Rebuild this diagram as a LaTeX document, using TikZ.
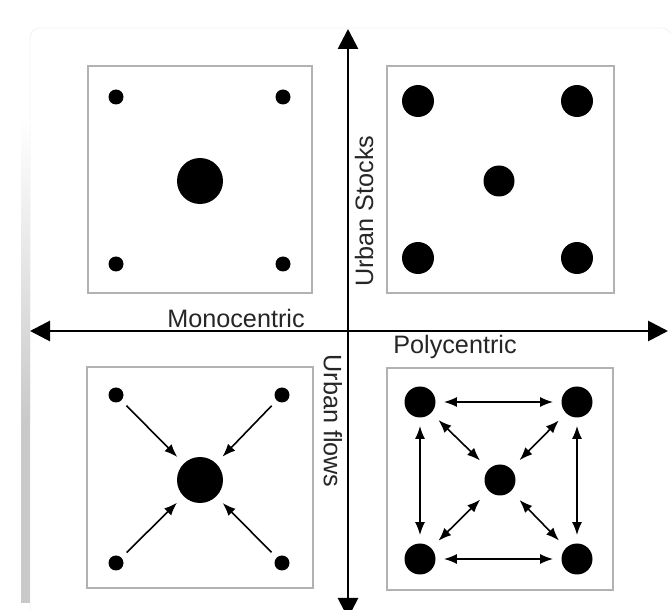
\documentclass[tikz,border=0pt]{standalone}
\usepackage{fontspec}
\setmainfont{Liberation Sans}
\usetikzlibrary{arrows.meta}
\tikzset{
  panel/.style={draw=black!30, line width=0.7pt},
  smalldot/.style={circle, fill=black, inner sep=0pt, minimum size=7.5pt},
  bigdot/.style={circle, fill=black, inner sep=0pt, minimum size=23pt},
  hubdot/.style={circle, fill=black, inner sep=0pt, minimum size=15.5pt},
  axis/.style={draw, line width=1.4pt, {Triangle[length=10pt,width=10pt]}-{Triangle[length=10pt,width=10pt]}},
  flow/.style={draw, line width=0.8pt, -{Latex[length=6.5pt,width=5pt]}, shorten <=3.5pt, shorten >=4.5pt},
  link/.style={draw, line width=0.8pt, {Latex[length=6.5pt,width=5pt]}-{Latex[length=6.5pt,width=5pt]}, shorten <=4pt, shorten >=4pt},
  axislabel/.style={font=\fontsize{12.6}{15}\selectfont, text=black!85, inner sep=0pt}
}
\begin{document}
\begin{tikzpicture}[x=0.5pt,y=-0.5pt]
\useasboundingbox (0,0) rectangle (671,610);
\clip (0,0) rectangle (671,610);
% background
\fill[white] (0,0) rectangle (671,610);
\draw[draw=black!5, fill=white, rounded corners=5pt] (30,28) rectangle (672,640);
\shade[top color=white, bottom color=black!21] (21,120) rectangle (30,420);
\fill[black!21] (21,420) rectangle (30,603);

% panels
\draw[panel] (88,66) rectangle (312,293);
\draw[panel] (387,66) rectangle (614,293);
\draw[panel] (87,367) rectangle (313,588);
\draw[panel] (387,368) rectangle (613,590);

% axes
\coordinate (top) at (348,29);
\coordinate (bottom) at (348,618);
\coordinate (left) at (30,331);
\coordinate (right) at (668,331);
\path[axis] (bottom) -- (top);
\path[axis] (left) -- (right);

\node[axislabel] (mono) at (236,318) {Monocentric};
\node[axislabel] (poly) at (455,347) {Polycentric};
\node[axislabel, rotate=90] (stocks) at (364,211) {Urban Stocks};
\node[axislabel, rotate=-90] (flows) at (333,421) {Urban flows};

% monocentric stocks
\node[smalldot] (ms1) at (116,97) {};
\node[smalldot] (ms2) at (283,97) {};
\node[smalldot] (ms3) at (116,264) {};
\node[smalldot] (ms4) at (283,264) {};
\node[bigdot] (msc) at (200,181) {};

% polycentric stocks
\node[hubdot, minimum size=16pt] (ps1) at (418,101) {};
\node[hubdot, minimum size=16pt] (ps2) at (577,101) {};
\node[hubdot, minimum size=16pt] (ps3) at (418,258) {};
\node[hubdot, minimum size=16pt] (ps4) at (577,258) {};
\node[hubdot] (psc) at (499,181) {};

% monocentric flows
\node[smalldot] (mf1) at (116,395) {};
\node[smalldot] (mf2) at (282,395) {};
\node[smalldot] (mf3) at (116,563) {};
\node[smalldot] (mf4) at (282,563) {};
\node[bigdot] (mfc) at (200,480) {};

\path[flow] (mf1) -- (mfc);
\path[flow] (mf2) -- (mfc);
\path[flow] (mf3) -- (mfc);
\path[flow] (mf4) -- (mfc);

% polycentric flows
\node[hubdot] (pf1) at (420,402) {};
\node[hubdot] (pf2) at (577,402) {};
\node[hubdot] (pf3) at (420,559) {};
\node[hubdot] (pf4) at (577,559) {};
\node[hubdot] (pfc) at (500,480) {};

\path[link] (pf1) -- (pf2);
\path[link] (pf3) -- (pf4);
\path[link] (pf1) -- (pf3);
\path[link] (pf2) -- (pf4);
\path[link, shorten <=5pt, shorten >=6pt] (pf1) -- (pfc);
\path[link, shorten <=5pt, shorten >=6pt] (pf2) -- (pfc);
\path[link, shorten <=5pt, shorten >=6pt] (pf3) -- (pfc);
\path[link, shorten <=5pt, shorten >=6pt] (pf4) -- (pfc);
\end{tikzpicture}
\end{document}
